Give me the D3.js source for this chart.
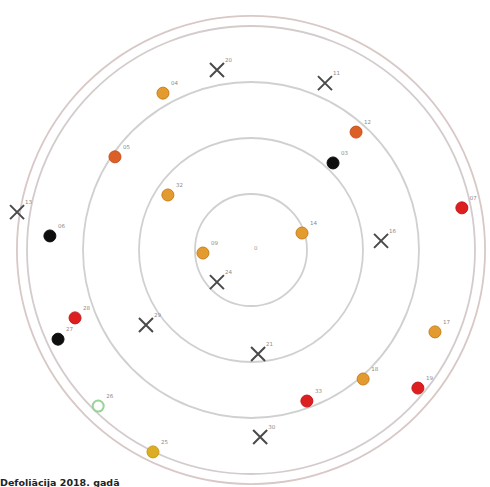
<!DOCTYPE html>
<html>
<head>
<meta charset="utf-8">
<script src="https://cdn.jsdelivr.net/npm/d3@7"></script>
<style>
  html, body { margin: 0; padding: 0; background: #fff; }
  svg { display: block; }
</style>
</head>
<body>
<svg id="chart" width="490" height="487"></svg>
<script>
// Plot labels
const labels = ["20","04","05","32","13","06","11","12","03","07","14","16","09","24","28","27","29","26","25","21","17","18","33","19","30"];
// Angle, degrees clockwise from north
const angles = [349.3,330.7,304.4,303.5,279.2,274.0,23.9,41.7,43.3,78.7,71.6,86.0,266.4,226.7,248.9,245.2,234.5,224.4,205.9,176.1,114.0,139.0,159.7,129.6,177.2];
// Radial value (defoliation, %)
const values = [81.8,80.3,73.6,44.5,105.8,90.0,81.5,70.5,53.4,96.0,24.0,58.2,21.5,20.9,84.2,94.9,57.6,97.5,100.2,46.5,89.9,76.3,71.9,96.7,83.6];
// Marker class of each point
const classes = ["cross","orange","orangeRed","orange","cross","black","cross","orangeRed","black","red","orange","cross","orange","cross","red","black","cross","green","yellow","cross","orange","orange","red","red","cross"];
// Rings
const ringValues = [25, 50, 75, 100];
const outerRing = 104.5;
const centerLabel = "0";
const title = "Defoliācija 2018. gadā";

const svg = d3.select("#chart");
const cx = 251, cy = 250;
const r = d3.scaleLinear().domain([0, 100]).range([0, 224]);

const g = svg.append("g").attr("transform", `translate(${cx},${cy})`);

g.selectAll("circle.ring").data(ringValues).join("circle")
  .attr("class", "ring")
  .attr("r", d => r(d))
  .attr("fill", "none")
  .attr("stroke", d => d === 100 ? "#d4cccc" : "#d0d0d0")
  .attr("stroke-width", 1.8);

g.append("circle")
  .attr("r", r(outerRing))
  .attr("fill", "none")
  .attr("stroke", "#d8c8c6")
  .attr("stroke-width", 1.8);

g.append("text")
  .attr("x", 3).attr("y", 0)
  .attr("font-family", "DejaVu Sans, sans-serif")
  .attr("font-size", 5.5)
  .attr("fill", "#999")
  .text(centerLabel);

const pts = labels.map((l, i) => {
  const a = angles[i] * Math.PI / 180;
  const rr = r(values[i]);
  return { label: l, cls: classes[i], x: rr * Math.sin(a), y: -rr * Math.cos(a) };
});

const fills = { orange: "#e39a2e", yellow: "#dcac22", orangeRed: "#dc5f28", red: "#dd1f1f", black: "#0e0e0e" };
const strokes = { orange: "#c9801c", yellow: "#c99a18", orangeRed: "#c9521f", red: "#c41a1a", black: "#0e0e0e" };

const marks = g.selectAll("g.pt").data(pts).join("g")
  .attr("class", "pt")
  .attr("transform", d => `translate(${d.x},${d.y})`);

marks.filter(d => d.cls === "cross").append("path")
  .attr("d", "M-7,-7L7,7M-7,7L7,-7")
  .attr("stroke", "#4a4a4a")
  .attr("stroke-width", 2)
  .attr("fill", "none");

marks.filter(d => d.cls === "green").append("circle")
  .attr("r", 5.5)
  .attr("fill", "#fff")
  .attr("stroke", "#97d297")
  .attr("stroke-width", 2);

marks.filter(d => fills[d.cls]).append("circle")
  .attr("r", 6)
  .attr("fill", d => fills[d.cls])
  .attr("stroke", d => strokes[d.cls])
  .attr("stroke-width", 1);

marks.append("text")
  .attr("x", 8).attr("y", -8)
  .attr("font-family", "DejaVu Sans, sans-serif")
  .attr("font-size", 5.5)
  .attr("fill", "#8a8a8a")
  .text(d => d.label);

svg.append("text")
  .attr("x", 0).attr("y", 486)
  .attr("font-family", "DejaVu Sans, sans-serif")
  .attr("font-size", 9.5)
  .attr("font-weight", "bold")
  .attr("fill", "#222")
  .text(title);
</script>
</body>
</html>
